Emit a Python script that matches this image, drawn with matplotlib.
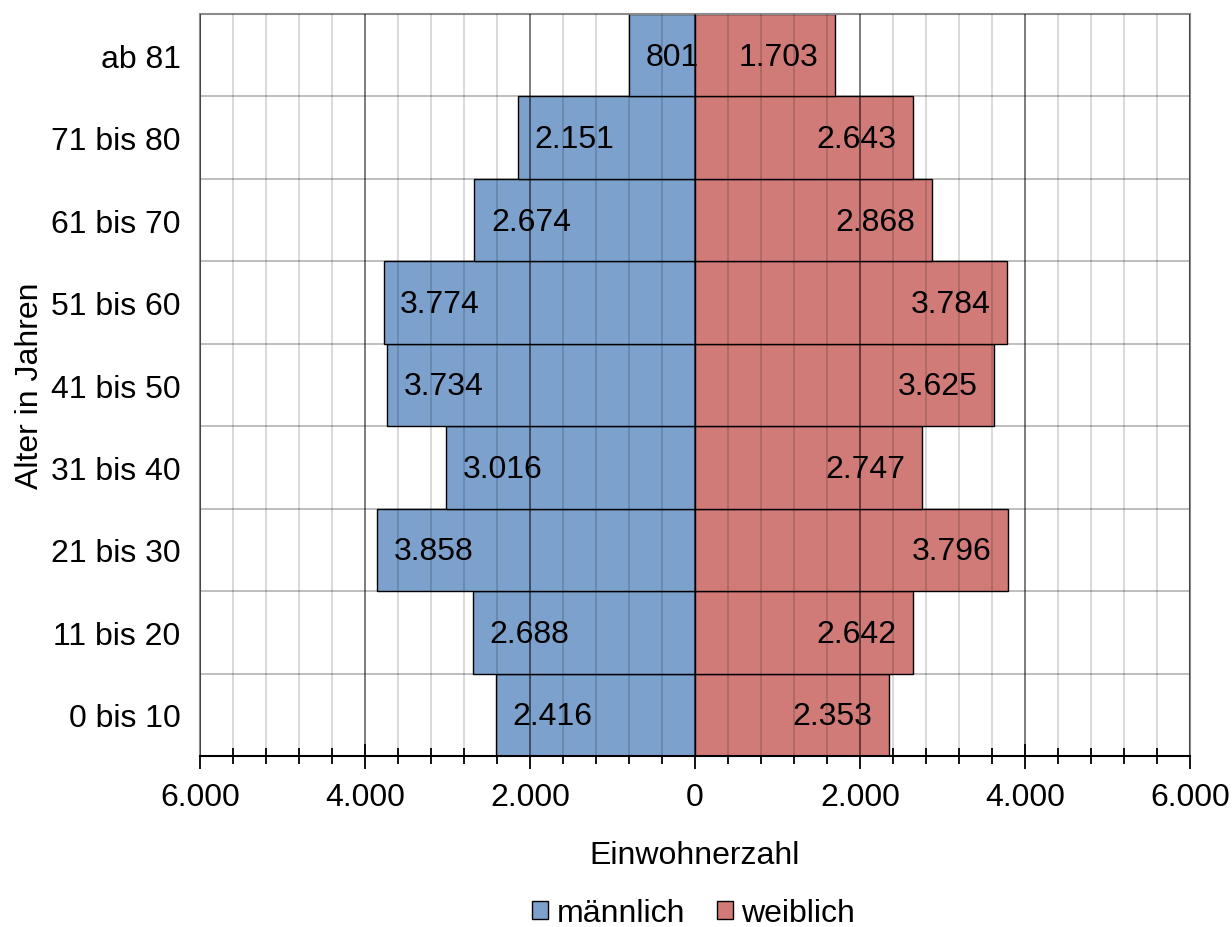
import matplotlib.pyplot as plt
from matplotlib.patches import Patch
from matplotlib.ticker import FixedLocator, FuncFormatter, MultipleLocator

plt.rcParams['font.family'] = ['Liberation Sans', 'DejaVu Sans']

# Altersgruppen von unten nach oben
age_groups = ["0 bis 10", "11 bis 20", "21 bis 30", "31 bis 40", "41 bis 50",
              "51 bis 60", "61 bis 70", "71 bis 80", "ab 81"]
male = [2416, 2688, 3858, 3016, 3734, 3774, 2674, 2151, 801]
female = [2353, 2642, 3796, 2747, 3625, 3784, 2868, 2643, 1703]

blue = "#7ca1cd"
red = "#d07b78"
fs = 23


def de_num(v):
    return f"{int(abs(v)):,}".replace(",", ".")


fig = plt.figure(figsize=(12.32, 9.28), dpi=100)
ax = fig.add_axes([0.1623, 0.1843, 0.8036, 0.7995])

y = range(len(age_groups))
ax.barh(y, [-m for m in male], height=1.0, color=blue, edgecolor="black", linewidth=1.0, zorder=2)
ax.barh(y, female, height=1.0, color=red, edgecolor="black", linewidth=1.0, zorder=2)

ax.set_xlim(-6000, 6000)
ax.set_ylim(-0.5, len(age_groups) - 0.5)

# Gitter: fein alle 400, kräftiger alle 2000, Trennlinien zwischen Altersgruppen
for xv in range(-6000, 6001, 400):
    if xv % 2000 == 0:
        ax.axvline(xv, color="black", alpha=0.6, linewidth=1.2, zorder=3)
    else:
        ax.axvline(xv, color="black", alpha=0.16, linewidth=1.3, zorder=3)
for yb in range(len(age_groups) + 1):
    ax.axhline(yb - 0.5, color="black", alpha=0.28, linewidth=1.3, zorder=1)

# Werte in den Balken
for i, (m, f) in enumerate(zip(male, female)):
    ax.annotate(de_num(m), (-m, i), xytext=(12, -1), textcoords="offset points",
                ha="left", va="center", fontsize=fs, zorder=5)
    ax.annotate(de_num(f), (f, i), xytext=(-12, -1), textcoords="offset points",
                ha="right", va="center", fontsize=fs, zorder=5)

ax.set_yticks(list(y))
ax.set_yticklabels(age_groups, fontsize=fs)
ax.tick_params(axis="y", length=0, pad=14)

ax.xaxis.set_major_locator(MultipleLocator(2000))
ax.xaxis.set_minor_locator(FixedLocator(range(-6000, 6001, 400)))
ax.xaxis.set_major_formatter(FuncFormatter(lambda v, p: de_num(v)))
ax.tick_params(axis="x", which="major", direction="inout", length=18, width=1.3,
               labelsize=fs, pad=10)
ax.tick_params(axis="x", which="minor", direction="inout", length=12, width=1.3)

for side in ["top", "left", "right"]:
    ax.spines[side].set_color("#8c8c8c")
    ax.spines[side].set_linewidth(1.5)
ax.spines["bottom"].set_color("black")
ax.spines["bottom"].set_linewidth(1.5)
ax.spines["bottom"].set_zorder(4)

ax.set_xlabel("Einwohnerzahl", fontsize=fs, labelpad=20)
ax.set_ylabel("Alter in Jahren", fontsize=fs, va="center")
ax.yaxis.set_label_coords(-0.172, 0.5)

handles = [Patch(facecolor=blue, edgecolor="black", label="männlich"),
           Patch(facecolor=red, edgecolor="black", label="weiblich")]
fig.legend(handles=handles, loc="center", bbox_to_anchor=(0.563, 0.015), ncol=2,
           frameon=False, fontsize=fs, handlelength=0.5, handleheight=0.5,
           handletextpad=0.25, columnspacing=1.0)

fig.savefig("out.png", dpi=100)
